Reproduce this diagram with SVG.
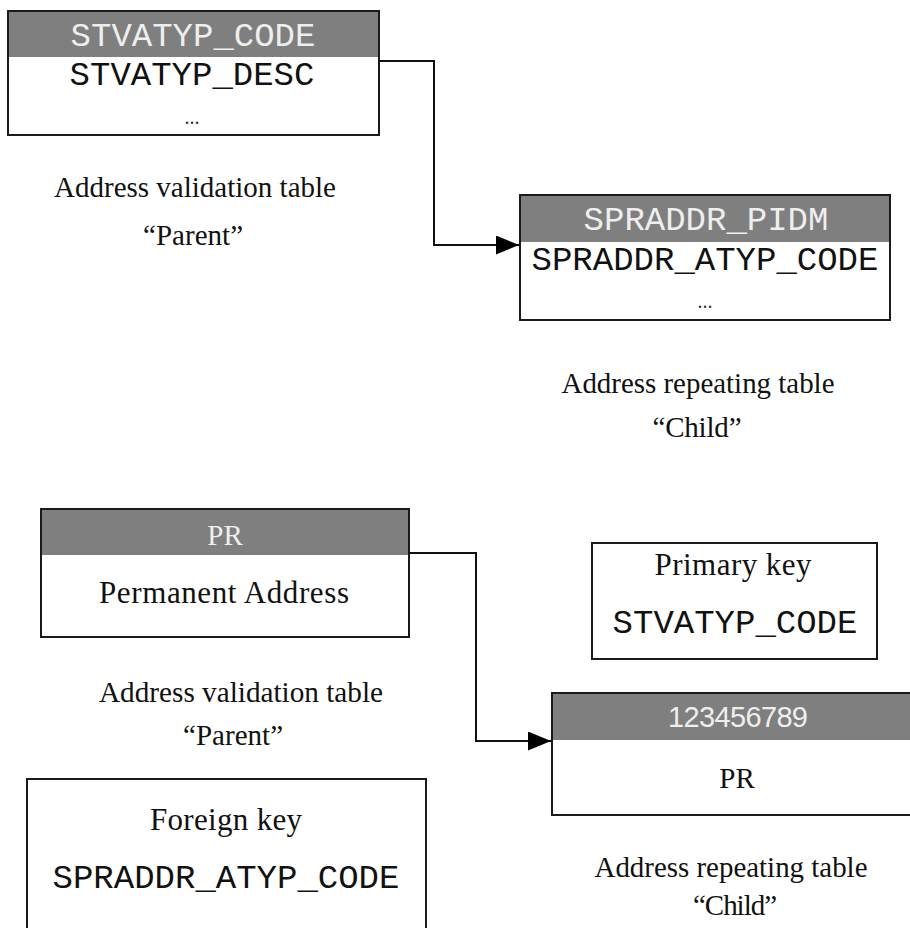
<svg xmlns="http://www.w3.org/2000/svg" width="910" height="928" viewBox="0 0 910 928">
  <style>
    .box { fill: #ffffff; stroke: #1a1a1a; stroke-width: 2; }
    .head { fill: #7f7f7f; stroke: none; }
    .frame { fill: none; stroke: #1a1a1a; stroke-width: 2; }
    .mono { font-family: "Liberation Mono", "Courier New", monospace; font-size: 34px; text-anchor: middle; fill: #111111; }
    .serif { font-family: "Liberation Serif", "Times New Roman", serif; font-size: 29px; text-anchor: middle; fill: #111111; }
    .big { font-size: 31px; }
    .sans { font-family: "Liberation Sans", Arial, sans-serif; font-size: 29px; text-anchor: middle; }
    .light { fill: #eeeeee; }
    .dots { font-family: "Liberation Serif", "Times New Roman", serif; font-size: 20px; text-anchor: middle; fill: #333333; }
    .conn { fill: none; stroke: #111111; stroke-width: 2; }
  </style>
  <defs>
    <marker id="arrow" viewBox="0 0 23 19" refX="23" refY="9.5" markerWidth="23" markerHeight="19" markerUnits="userSpaceOnUse" orient="auto">
      <polygon points="0,0 23,9.5 0,19" fill="#000000"/>
    </marker>
  </defs>

  <rect width="910" height="928" fill="#ffffff"/>

  <!-- validation table (top) -->
  <g id="stvatyp">
    <rect class="box" x="8" y="11" width="371" height="124"/>
    <rect class="head" x="9" y="12" width="369" height="45"/>
    <rect class="frame" x="8" y="11" width="371" height="124"/>
    <text class="mono light" x="193" y="46">STVATYP_CODE</text>
    <text class="mono" x="192" y="85">STVATYP_DESC</text>
    <text class="dots" x="192" y="124">...</text>
  </g>

  <g id="label-parent-1">
    <text class="serif" x="195" y="197" textLength="282" lengthAdjust="spacingAndGlyphs">Address validation table</text>
    <text class="serif" x="193" y="245" textLength="100" lengthAdjust="spacing">“Parent”</text>
  </g>

  <!-- repeating table (top) -->
  <g id="spraddr">
    <rect class="box" x="520" y="195" width="370" height="125"/>
    <rect class="head" x="521" y="196" width="368" height="46"/>
    <rect class="frame" x="520" y="195" width="370" height="125"/>
    <text class="mono light" x="706" y="230">SPRADDR_PIDM</text>
    <text class="mono" x="705" y="270">SPRADDR_ATYP_CODE</text>
    <text class="dots" x="705" y="308">...</text>
  </g>

  <g id="label-child-1">
    <text class="serif" x="698" y="393" textLength="273" lengthAdjust="spacingAndGlyphs">Address repeating table</text>
    <text class="serif" x="697" y="437" textLength="89" lengthAdjust="spacing">“Child”</text>
  </g>

  <!-- validation table (example row) -->
  <g id="pr-parent">
    <rect class="box" x="41" y="509" width="368" height="128"/>
    <rect class="head" x="42" y="510" width="366" height="45"/>
    <rect class="frame" x="41" y="509" width="368" height="128"/>
    <text class="serif light" x="225" y="545" font-size="30">PR</text>
    <text class="serif big" x="224" y="603" textLength="250" lengthAdjust="spacing">Permanent Address</text>
  </g>

  <g id="label-parent-2">
    <text class="serif" x="241" y="702" textLength="284" lengthAdjust="spacingAndGlyphs">Address validation table</text>
    <text class="serif" x="233" y="745" textLength="100" lengthAdjust="spacing">“Parent”</text>
  </g>

  <g id="primary-key">
    <rect class="box" x="592" y="543" width="285" height="116"/>
    <text class="serif big" x="733" y="575" textLength="157" lengthAdjust="spacing">Primary key</text>
    <text class="mono" x="735" y="633">STVATYP_CODE</text>
  </g>

  <!-- repeating table (example row) -->
  <g id="pr-child">
    <rect class="box" x="552" y="693" width="380" height="122"/>
    <rect class="head" x="553" y="694" width="378" height="46"/>
    <rect class="frame" x="552" y="693" width="380" height="122"/>
    <text class="sans light" x="738" y="727" textLength="140" lengthAdjust="spacing">123456789</text>
    <text class="serif" x="737" y="788" font-size="31">PR</text>
  </g>

  <g id="label-child-2">
    <text class="serif" x="731" y="877" textLength="273" lengthAdjust="spacingAndGlyphs">Address repeating table</text>
    <text class="serif" x="735" y="915" textLength="84" lengthAdjust="spacing">“Child”</text>
  </g>

  <g id="foreign-key">
    <rect class="box" x="27" y="779" width="399" height="170"/>
    <text class="serif big" x="226" y="830" textLength="152" lengthAdjust="spacing">Foreign key</text>
    <text class="mono" x="226" y="888">SPRADDR_ATYP_CODE</text>
  </g>

  <!-- relationships: parent code to child column -->
  <g id="connectors">
    <path class="conn" d="M379,61 H434 V245 H519" marker-end="url(#arrow)"/>
    <path class="conn" d="M409,553 H476 V741 H551" marker-end="url(#arrow)"/>
  </g>
</svg>
